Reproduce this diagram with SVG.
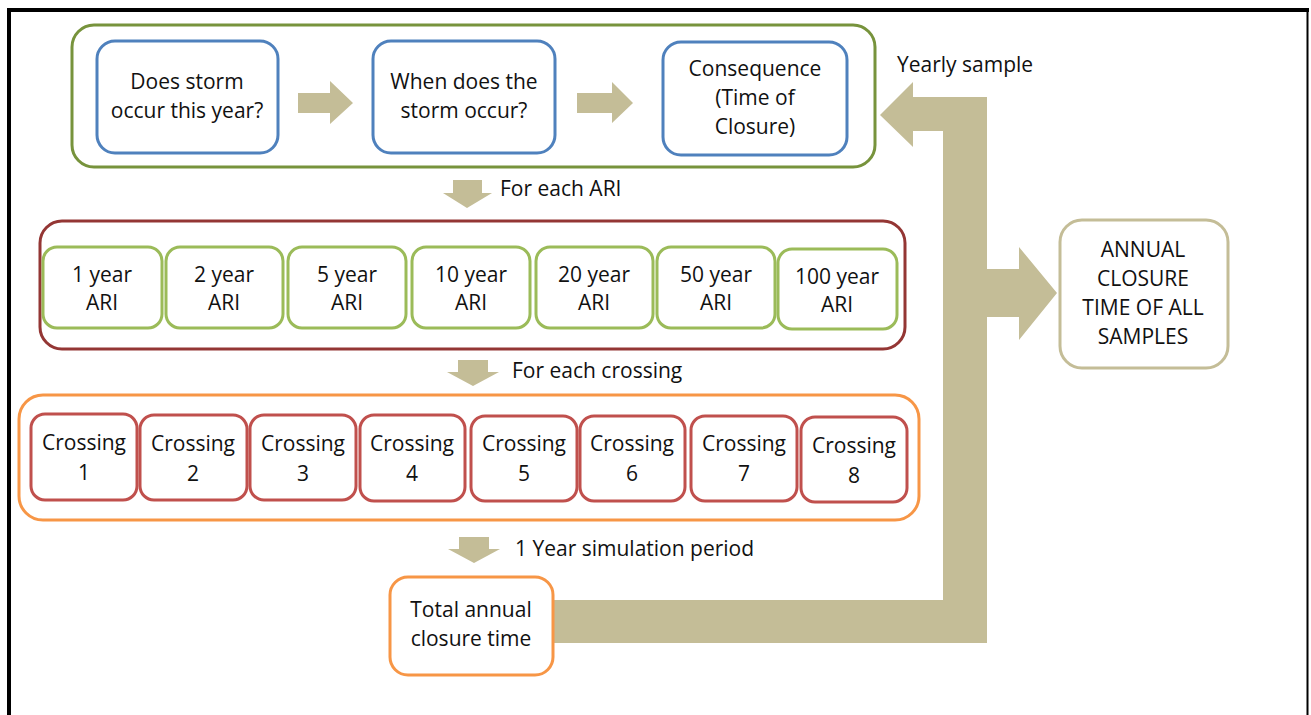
<svg xmlns="http://www.w3.org/2000/svg" width="1311" height="715" viewBox="0 0 1311 715">
<style>
text{font-family:"Open Sans",Lato,"Liberation Sans",sans-serif;font-size:21px;fill:#111;text-anchor:middle}
.lbl{text-anchor:start}
.grp{fill:#fff;stroke-width:3}
.blue{fill:#fff;stroke:#4F81BD;stroke-width:3}
.green{fill:#fff;stroke:#9BBB59;stroke-width:3}
.red{fill:#fff;stroke:#C0504D;stroke-width:3}
.arrow{fill:#C4BD97}
</style>
<rect x="0" y="0" width="1311" height="715" fill="#fff"/>
<g id="frame" fill="none" stroke="#000">
<line x1="9" y1="8" x2="9" y2="715" stroke-width="4"/>
<line x1="7" y1="10" x2="1309" y2="10" stroke-width="4"/>
<line x1="1307.5" y1="8" x2="1307.5" y2="715" stroke-width="2"/>
</g>
<g id="containers">
<rect id="sample-group" x="72" y="25" width="803" height="142" rx="22" class="grp" stroke="#77933C"/>
<rect id="ari-group" x="40" y="221" width="865" height="128" rx="22" class="grp" stroke="#943634"/>
<rect id="crossing-group" x="19" y="395" width="900" height="125" rx="24" class="grp" stroke="#F79646"/>
</g>
<g id="connectors">
<polygon class="arrow" points="298,93 330,93 330,81 353,103 330,124 330,113 298,113"/>
<polygon class="arrow" points="577,93 612,93 612,82 633,103 612,123 612,113 577,113"/>
<polygon class="arrow" points="453,180 482,180 482,193 492,193 467,208 443,193 453,193"/>
<polygon class="arrow" points="458,360 488,360 488,372 499,372 473,386 447,372 458,372"/>
<polygon class="arrow" points="459,537 489,537 489,549 500,549 474,563 448,549 459,549"/>
<polygon class="arrow" points="880,115 913,82 913,97 987,97 987,269 1019,269 1019,247 1057,293 1019,340 1019,317 987,317 987,643 553,643 553,600 943,600 943,131 913,131 913,147"/>
<text class="lbl" x="500" y="196">For each ARI</text>
<text class="lbl" x="512" y="378">For each crossing</text>
<text class="lbl" x="515" y="556">1 Year simulation period</text>
<text class="lbl" x="897" y="72">Yearly sample</text>
</g>
<g id="n-storm"><rect x="97" y="41" width="181" height="112" rx="18" class="blue"/><text x="187" y="89">Does storm</text><text x="187" y="118">occur this year?</text></g>
<g id="n-when"><rect x="373" y="41" width="182" height="112" rx="18" class="blue"/><text x="464" y="89">When does the</text><text x="464" y="118">storm occur?</text></g>
<g id="n-consequence"><rect x="663" y="42" width="184" height="113" rx="18" class="blue"/><text x="755" y="76">Consequence</text><text x="755" y="105">(Time of</text><text x="755" y="134">Closure)</text></g>
<g id="n-ari1"><rect x="43" y="247" width="119" height="81" rx="14" class="green"/><text x="102" y="282">1 year</text><text x="102" y="310">ARI</text></g>
<g id="n-ari2"><rect x="166" y="247" width="117" height="81" rx="14" class="green"/><text x="224" y="282">2 year</text><text x="224" y="310">ARI</text></g>
<g id="n-ari5"><rect x="288" y="247" width="118" height="81" rx="14" class="green"/><text x="347" y="282">5 year</text><text x="347" y="310">ARI</text></g>
<g id="n-ari10"><rect x="412" y="247" width="118" height="81" rx="14" class="green"/><text x="471" y="282">10 year</text><text x="471" y="310">ARI</text></g>
<g id="n-ari20"><rect x="536" y="247" width="117" height="81" rx="14" class="green"/><text x="594" y="282">20 year</text><text x="594" y="310">ARI</text></g>
<g id="n-ari50"><rect x="657" y="247" width="118" height="81" rx="14" class="green"/><text x="716" y="282">50 year</text><text x="716" y="310">ARI</text></g>
<g id="n-ari100"><rect x="778" y="249" width="119" height="80" rx="14" class="green"/><text x="837" y="284">100 year</text><text x="837" y="312">ARI</text></g>
<g id="n-c1"><rect x="31" y="414" width="106" height="86" rx="14" class="red"/><text x="84" y="450">Crossing</text><text x="84" y="480">1</text></g>
<g id="n-c2"><rect x="140" y="415" width="107" height="85" rx="14" class="red"/><text x="193" y="451">Crossing</text><text x="193" y="481">2</text></g>
<g id="n-c3"><rect x="250" y="415" width="106" height="85" rx="14" class="red"/><text x="303" y="451">Crossing</text><text x="303" y="481">3</text></g>
<g id="n-c4"><rect x="360" y="415" width="105" height="86" rx="14" class="red"/><text x="412" y="451">Crossing</text><text x="412" y="481">4</text></g>
<g id="n-c5"><rect x="471" y="416" width="106" height="85" rx="14" class="red"/><text x="524" y="451">Crossing</text><text x="524" y="481">5</text></g>
<g id="n-c6"><rect x="580" y="416" width="105" height="85" rx="14" class="red"/><text x="632" y="451">Crossing</text><text x="632" y="481">6</text></g>
<g id="n-c7"><rect x="691" y="416" width="106" height="85" rx="14" class="red"/><text x="744" y="451">Crossing</text><text x="744" y="481">7</text></g>
<g id="n-c8"><rect x="801" y="417" width="106" height="85" rx="14" class="red"/><text x="854" y="453">Crossing</text><text x="854" y="483">8</text></g>
<g id="n-total"><rect x="390" y="577" width="163" height="98" rx="18" fill="#fff" stroke="#F79646" stroke-width="3"/><text x="471" y="617">Total annual</text><text x="471" y="646">closure time</text></g>
<g id="n-annual"><rect x="1060" y="220" width="168" height="148" rx="22" fill="#fff" stroke="#C4BD97" stroke-width="3"/><text x="1143" y="257">ANNUAL</text><text x="1143" y="286">CLOSURE</text><text x="1143" y="315">TIME OF ALL</text><text x="1143" y="344">SAMPLES</text></g>
</svg>
